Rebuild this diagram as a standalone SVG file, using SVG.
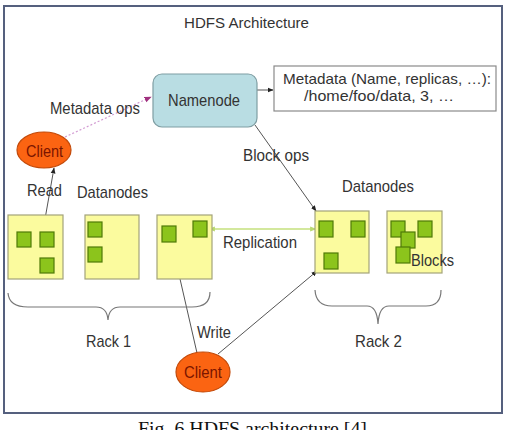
<svg xmlns="http://www.w3.org/2000/svg" width="508" height="430" viewBox="0 0 508 430">
<style>
text{font-family:"Liberation Sans",Arial,sans-serif;fill:#333;font-size:17px}
.ttl{font-size:15px}
.md{font-size:15px}
.cap{font-family:"Liberation Serif","Times New Roman",serif;font-size:18px;fill:#111}
.ctext{fill:#7a1500}
.dn{fill:#fbfb9e;stroke:#a3a37a;stroke-width:1.2}
.blk{fill:#8cc41c;stroke:#4f7a08;stroke-width:1.2}
.cl{fill:#fb6412;stroke:#c24a0a;stroke-width:1.2}
.ln{fill:none;stroke:#555;stroke-width:1}
.brace{fill:none;stroke:#777;stroke-width:1.2}
</style>
<defs>
<marker id="ah" viewBox="0 0 10 10" refX="9" refY="5" markerWidth="6" markerHeight="6" orient="auto"><path d="M0,1 L10,5 L0,9 Z" fill="#222"/></marker>
<marker id="ahp" viewBox="0 0 10 10" refX="9" refY="5" markerWidth="6" markerHeight="6" orient="auto"><path d="M0,1 L10,5 L0,9 Z" fill="#a0307f"/></marker>
<marker id="ahg" viewBox="0 0 10 10" refX="9" refY="5" markerWidth="5" markerHeight="5" orient="auto-start-reverse"><path d="M0,1 L10,5 L0,9 Z" fill="#b8d870"/></marker>
</defs>
<rect x="0" y="0" width="508" height="430" fill="#fff"/>
<rect x="4" y="6" width="498" height="407" fill="#fff" stroke="#55607e" stroke-width="2"/>
<text class="ttl" x="184" y="28" textLength="125" lengthAdjust="spacingAndGlyphs">HDFS Architecture</text>

<g id="connectors">
<line class="ln" x1="257" y1="90" x2="273" y2="90" marker-end="url(#ah)"/>
<line x1="65" y1="137" x2="151" y2="97" stroke="#d29ad2" stroke-width="1.2" stroke-dasharray="2,2" marker-end="url(#ahp)"/>
<line class="ln" x1="45" y1="219" x2="54" y2="168" marker-end="url(#ah)"/>
<line class="ln" x1="255" y1="125" x2="316" y2="211" marker-end="url(#ah)"/>
<line x1="209" y1="229" x2="316" y2="229" stroke="#c4e07c" stroke-width="1.3" marker-start="url(#ahg)" marker-end="url(#ahg)"/>
<line class="ln" x1="197" y1="353" x2="172" y2="244" marker-end="url(#ah)"/>
<line class="ln" x1="218" y1="354" x2="317" y2="271" marker-end="url(#ah)"/>
</g>

<g id="namenode">
<rect x="153" y="74" width="104" height="53" rx="9" fill="#b9dde3" stroke="#7f9ea3" stroke-width="1.2"/>
<text x="168" y="106" textLength="72" lengthAdjust="spacingAndGlyphs">Namenode</text>
</g>
<g id="metadata">
<rect x="274" y="66" width="222" height="45" fill="#fff" stroke="#8a8a8a" stroke-width="1.2"/>
<text class="md" x="283" y="84" textLength="208" lengthAdjust="spacingAndGlyphs">Metadata (Name, replicas, …):</text>
<text class="md" x="304" y="101" textLength="150" lengthAdjust="spacingAndGlyphs">/home/foo/data, 3, …</text>
</g>
<g id="client-read">
<ellipse class="cl" cx="44" cy="150" rx="27" ry="18"/>
<text class="ctext" x="26" y="157" textLength="37" lengthAdjust="spacingAndGlyphs">Client</text>
</g>
<g id="client-write">
<ellipse class="cl" cx="203" cy="372" rx="27" ry="20"/>
<text class="ctext" x="184" y="378" textLength="38" lengthAdjust="spacingAndGlyphs">Client</text>
</g>

<g id="labels">
<text x="50" y="114" textLength="90" lengthAdjust="spacingAndGlyphs">Metadata ops</text>
<text x="27" y="196" textLength="35" lengthAdjust="spacingAndGlyphs">Read</text>
<text x="77" y="198" textLength="71" lengthAdjust="spacingAndGlyphs">Datanodes</text>
<text x="243" y="161" textLength="66" lengthAdjust="spacingAndGlyphs">Block ops</text>
<text x="342" y="192" textLength="72" lengthAdjust="spacingAndGlyphs">Datanodes</text>
<text x="223" y="248" textLength="74" lengthAdjust="spacingAndGlyphs">Replication</text>
<text x="197" y="338" textLength="34" lengthAdjust="spacingAndGlyphs">Write</text>
<text x="86" y="347" textLength="45" lengthAdjust="spacingAndGlyphs">Rack 1</text>
<text x="355" y="347" textLength="47" lengthAdjust="spacingAndGlyphs">Rack 2</text>
</g>

<g id="dn1">
<rect class="dn" x="8" y="215" width="55" height="64"/>
<rect class="blk" x="17" y="232" width="14" height="15"/>
<rect class="blk" x="40" y="232" width="14" height="15"/>
<rect class="blk" x="40" y="258" width="14" height="15"/>
</g>
<g id="dn2">
<rect class="dn" x="85" y="215" width="54" height="64"/>
<rect class="blk" x="88" y="222" width="14" height="15"/>
<rect class="blk" x="88" y="247" width="14" height="15"/>
</g>
<g id="dn3">
<rect class="dn" x="157" y="215" width="55" height="64"/>
<rect class="blk" x="162" y="226" width="14" height="16"/>
<rect class="blk" x="193" y="221" width="14" height="16"/>
</g>
<g id="dn4">
<rect class="dn" x="315" y="211" width="54" height="62"/>
<rect class="blk" x="319" y="221" width="14" height="16"/>
<rect class="blk" x="351" y="221" width="14" height="16"/>
<rect class="blk" x="324" y="253" width="14" height="16"/>
</g>
<g id="dn5">
<rect class="dn" x="387" y="211" width="55" height="62"/>
<rect class="blk" x="391" y="221" width="14" height="16"/>
<rect class="blk" x="418" y="221" width="14" height="16"/>
<rect class="blk" x="401" y="232" width="14" height="16"/>
<rect class="blk" x="396" y="247" width="14" height="16"/>
<text x="411" y="266" textLength="43" lengthAdjust="spacingAndGlyphs">Blocks</text>
</g>

<g id="braces">
<path class="brace" d="M8,293 Q9,307 28,307 L96,307 Q107,307 108,320 Q109,307 120,307 L192,307 Q210,307 210,292"/>
<path class="brace" d="M315,290 Q316,306 332,306 L367,306 Q377,306 378,324 Q379,306 389,306 L426,306 Q441,306 441,290"/>
</g>

<text class="cap" x="138" y="435" textLength="229" lengthAdjust="spacingAndGlyphs">Fig. 6 HDFS architecture [4]</text>
</svg>
